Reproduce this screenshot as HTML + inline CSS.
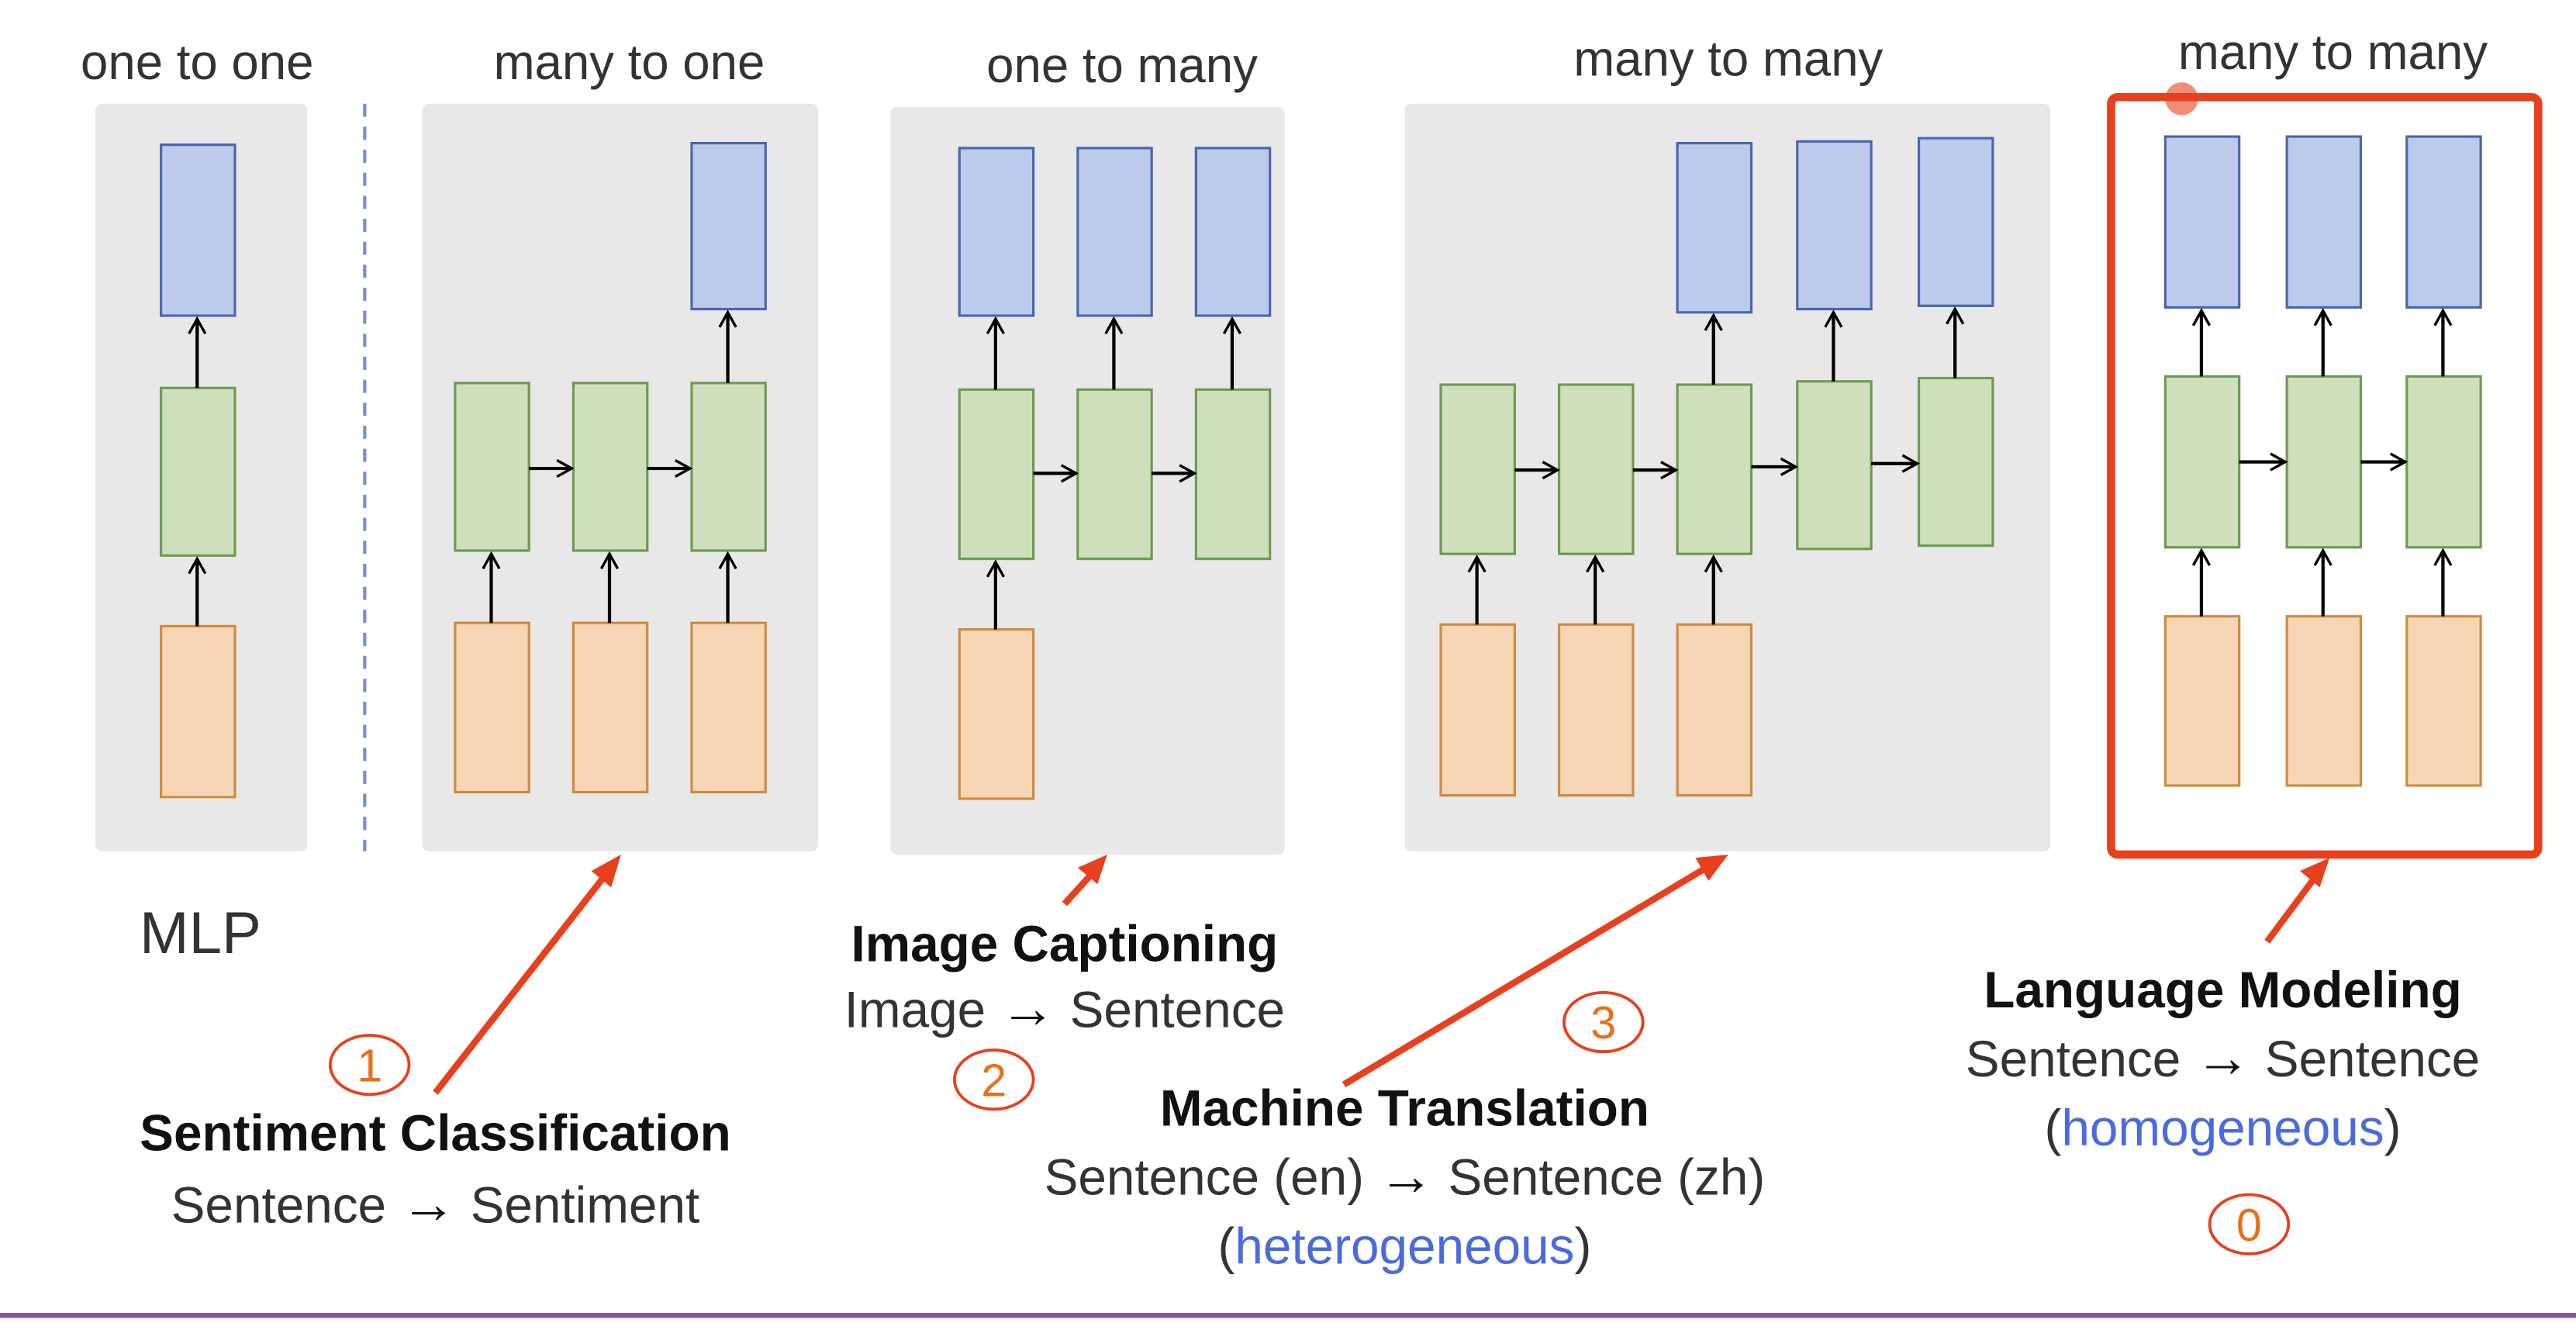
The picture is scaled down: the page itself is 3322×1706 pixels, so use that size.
<!DOCTYPE html>
<html><head><meta charset="utf-8"><style>
html,body{margin:0;padding:0;background:#fff;}
svg{display:block;}
text{font-family:"Liberation Sans",sans-serif;}
</style></head><body>
<svg width="3322" height="1706" viewBox="0 0 1568 805" xmlns="http://www.w3.org/2000/svg">
<defs>
<marker id="ah" markerWidth="12" markerHeight="12" refX="10" refY="6" orient="auto" markerUnits="userSpaceOnUse">
<path d="M1,1 L10,6 L1,11" fill="none" stroke="#000" stroke-width="1.6"/>
</marker>
</defs>
<rect width="1568" height="805" fill="#fff"/>
<rect x="58" y="63" width="129" height="455" rx="4" fill="#e8e8e8"/>
<line x1="222" y1="63" x2="222" y2="518" stroke="#7a8fd0" stroke-width="2" stroke-dasharray="8,6"/>
<rect x="257" y="63" width="241" height="455" rx="4" fill="#e8e8e8"/>
<rect x="542" y="65" width="240" height="455" rx="4" fill="#e8e8e8"/>
<rect x="855" y="63" width="393" height="455" rx="4" fill="#e8e8e8"/>
<rect x="1285" y="59" width="260" height="461" rx="4" fill="#fff" stroke="#e8401c" stroke-width="5"/>

<g stroke-width="1.5">
<rect x="98" y="88" width="45" height="104" fill="#bccbeb" stroke="#4a66b0"/>
<rect x="98" y="236" width="45" height="102" fill="#cde0bb" stroke="#6e9a55"/>
<rect x="98" y="381" width="45" height="104" fill="#f6d6b4" stroke="#d08a40"/>
<rect x="421" y="87" width="45" height="101" fill="#bccbeb" stroke="#4a66b0"/>
<rect x="277" y="233" width="45" height="102" fill="#cde0bb" stroke="#6e9a55"/>
<rect x="349" y="233" width="45" height="102" fill="#cde0bb" stroke="#6e9a55"/>
<rect x="421" y="233" width="45" height="102" fill="#cde0bb" stroke="#6e9a55"/>
<rect x="277" y="379" width="45" height="103" fill="#f6d6b4" stroke="#d08a40"/>
<rect x="349" y="379" width="45" height="103" fill="#f6d6b4" stroke="#d08a40"/>
<rect x="421" y="379" width="45" height="103" fill="#f6d6b4" stroke="#d08a40"/>
<rect x="584" y="90" width="45" height="102" fill="#bccbeb" stroke="#4a66b0"/>
<rect x="656" y="90" width="45" height="102" fill="#bccbeb" stroke="#4a66b0"/>
<rect x="728" y="90" width="45" height="102" fill="#bccbeb" stroke="#4a66b0"/>
<rect x="584" y="237" width="45" height="103" fill="#cde0bb" stroke="#6e9a55"/>
<rect x="656" y="237" width="45" height="103" fill="#cde0bb" stroke="#6e9a55"/>
<rect x="728" y="237" width="45" height="103" fill="#cde0bb" stroke="#6e9a55"/>
<rect x="584" y="383" width="45" height="103" fill="#f6d6b4" stroke="#d08a40"/>
<rect x="1021" y="87" width="45" height="103" fill="#bccbeb" stroke="#4a66b0"/>
<rect x="1094" y="86" width="45" height="102" fill="#bccbeb" stroke="#4a66b0"/>
<rect x="1168" y="84" width="45" height="102" fill="#bccbeb" stroke="#4a66b0"/>
<rect x="877" y="234" width="45" height="103" fill="#cde0bb" stroke="#6e9a55"/>
<rect x="949" y="234" width="45" height="103" fill="#cde0bb" stroke="#6e9a55"/>
<rect x="1021" y="234" width="45" height="103" fill="#cde0bb" stroke="#6e9a55"/>
<rect x="1094" y="232" width="45" height="102" fill="#cde0bb" stroke="#6e9a55"/>
<rect x="1168" y="230" width="45" height="102" fill="#cde0bb" stroke="#6e9a55"/>
<rect x="877" y="380" width="45" height="104" fill="#f6d6b4" stroke="#d08a40"/>
<rect x="949" y="380" width="45" height="104" fill="#f6d6b4" stroke="#d08a40"/>
<rect x="1021" y="380" width="45" height="104" fill="#f6d6b4" stroke="#d08a40"/>
<rect x="1318" y="83" width="45" height="104" fill="#bccbeb" stroke="#4a66b0"/>
<rect x="1392" y="83" width="45" height="104" fill="#bccbeb" stroke="#4a66b0"/>
<rect x="1465" y="83" width="45" height="104" fill="#bccbeb" stroke="#4a66b0"/>
<rect x="1318" y="229" width="45" height="104" fill="#cde0bb" stroke="#6e9a55"/>
<rect x="1392" y="229" width="45" height="104" fill="#cde0bb" stroke="#6e9a55"/>
<rect x="1465" y="229" width="45" height="104" fill="#cde0bb" stroke="#6e9a55"/>
<rect x="1318" y="375" width="45" height="103" fill="#f6d6b4" stroke="#d08a40"/>
<rect x="1392" y="375" width="45" height="103" fill="#f6d6b4" stroke="#d08a40"/>
<rect x="1465" y="375" width="45" height="103" fill="#f6d6b4" stroke="#d08a40"/>
</g>

<g stroke="#000" stroke-width="2" marker-end="url(#ah)">
<line x1="120" y1="236" x2="120" y2="194"/>
<line x1="120" y1="381" x2="120" y2="340"/>
<line x1="443" y1="233" x2="443" y2="190"/>
<line x1="299" y1="379" x2="299" y2="337"/>
<line x1="371" y1="379" x2="371" y2="337"/>
<line x1="443" y1="379" x2="443" y2="337"/>
<line x1="322" y1="285" x2="348" y2="285"/>
<line x1="394" y1="285" x2="420" y2="285"/>
<line x1="606" y1="237" x2="606" y2="194"/>
<line x1="678" y1="237" x2="678" y2="194"/>
<line x1="750" y1="237" x2="750" y2="194"/>
<line x1="606" y1="383" x2="606" y2="342"/>
<line x1="629" y1="288" x2="655" y2="288"/>
<line x1="701" y1="288" x2="727" y2="288"/>
<line x1="1043" y1="234" x2="1043" y2="192"/>
<line x1="1116" y1="232" x2="1116" y2="190"/>
<line x1="1190" y1="230" x2="1190" y2="188"/>
<line x1="899" y1="380" x2="899" y2="339"/>
<line x1="971" y1="380" x2="971" y2="339"/>
<line x1="1043" y1="380" x2="1043" y2="339"/>
<line x1="922" y1="286" x2="948" y2="286"/>
<line x1="994" y1="286" x2="1020" y2="286"/>
<line x1="1066" y1="284" x2="1093" y2="284"/>
<line x1="1139" y1="282" x2="1167" y2="282"/>
<line x1="1340" y1="229" x2="1340" y2="189"/>
<line x1="1414" y1="229" x2="1414" y2="189"/>
<line x1="1487" y1="229" x2="1487" y2="189"/>
<line x1="1340" y1="375" x2="1340" y2="335"/>
<line x1="1414" y1="375" x2="1414" y2="335"/>
<line x1="1487" y1="375" x2="1487" y2="335"/>
<line x1="1363" y1="281" x2="1391" y2="281"/>
<line x1="1437" y1="281" x2="1464" y2="281"/>
</g>

<g font-size="30" fill="#333" text-anchor="middle">
<text x="120" y="48">one to one</text>
<text x="383" y="48">many to one</text>
<text x="683" y="50">one to many</text>
<text x="1052" y="46">many to many</text>
<text x="1420" y="42">many to many</text>
</g>
<circle cx="1328" cy="60" r="10" fill="#e8401c" opacity="0.6"/>
<text x="122" y="580" font-size="36" fill="#333" text-anchor="middle">MLP</text>

<g stroke="#e8401c" stroke-width="4" fill="#e8401c">
<line x1="265" y1="665" x2="372" y2="528"/>
<polygon points="378,520 360,530 372,540" stroke="none"/>
<line x1="648" y1="550" x2="668" y2="528"/>
<polygon points="674,520 656,528 668,538" stroke="none"/>
<line x1="818" y1="660" x2="1042" y2="526"/>
<polygon points="1052,520 1032,522 1040,536" stroke="none"/>
<line x1="1380" y1="573" x2="1412" y2="530"/>
<polygon points="1418,522 1400,530 1412,540" stroke="none"/>
</g>
<g fill="none" stroke="#e8401c" stroke-width="1.8">
<ellipse cx="225" cy="648" rx="24" ry="18"/>
<ellipse cx="605" cy="657" rx="24" ry="18"/>
<ellipse cx="976" cy="622" rx="24" ry="18"/>
<ellipse cx="1369" cy="745" rx="24" ry="18"/>
</g>
<g font-size="28" fill="#e8701c" text-anchor="middle">
<text x="225" y="658">1</text>
<text x="605" y="667">2</text>
<text x="976" y="632">3</text>
<text x="1369" y="755">0</text>
</g>

<g text-anchor="middle" font-size="31">
<text x="265" y="700" font-weight="bold" fill="#111">Sentiment Classification</text>
<text x="265" y="744" fill="#333">Sentence <tspan font-weight="bold" fill="#111" font-size="34">→</tspan> Sentiment</text>
<text x="648" y="585" font-weight="bold" fill="#111">Image Captioning</text>
<text x="648" y="625" fill="#333">Image <tspan font-weight="bold" fill="#111" font-size="34">→</tspan> Sentence</text>
<text x="855" y="685" font-weight="bold" fill="#111">Machine Translation</text>
<text x="855" y="727" fill="#333">Sentence (en) <tspan font-weight="bold" fill="#111" font-size="34">→</tspan> Sentence (zh)</text>
<text x="855" y="769" fill="#333">(<tspan fill="#4a6ae0">heterogeneous</tspan>)</text>
<text x="1353" y="613" font-weight="bold" fill="#111">Language Modeling</text>
<text x="1353" y="655" fill="#333">Sentence <tspan font-weight="bold" fill="#111" font-size="34">→</tspan> Sentence</text>
<text x="1353" y="697" fill="#333">(<tspan fill="#4a6ae0">homogeneous</tspan>)</text>
</g>
<rect x="0" y="799" width="1568" height="3" fill="#7a5a9a"/>
</svg>
</body></html>
